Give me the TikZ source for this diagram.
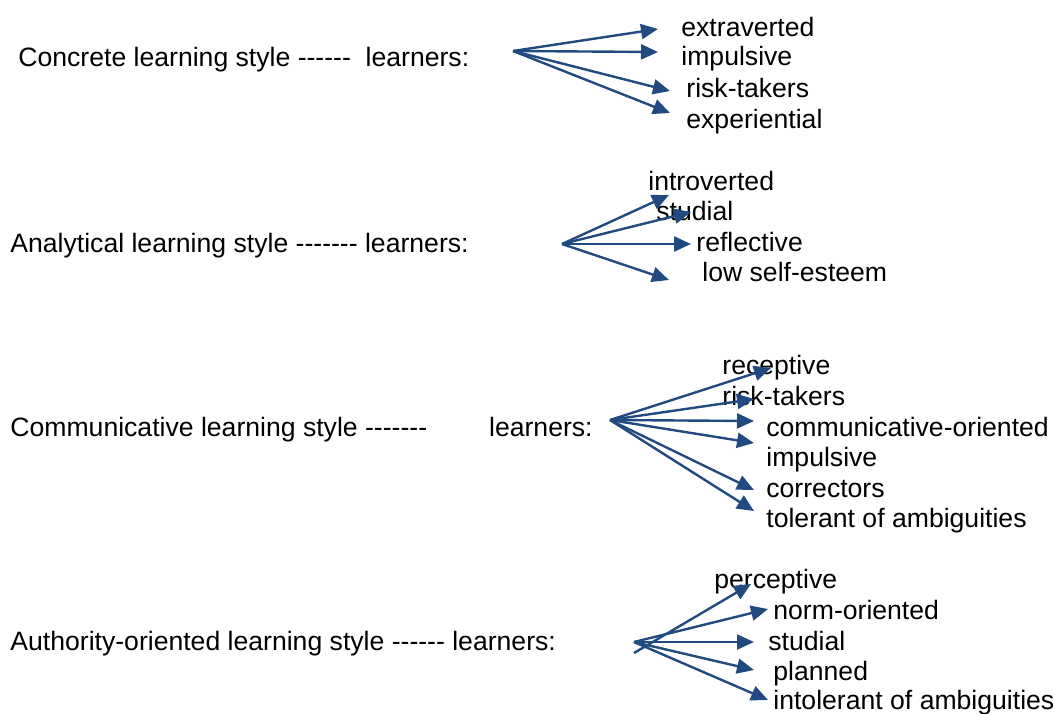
\documentclass[tikz,border=0pt]{standalone}
\usepackage{fontspec}
\setmainfont{Liberation Sans}
\usetikzlibrary{arrows.meta}
\definecolor{arrowblue}{RGB}{33,74,128}

\begin{document}
\begin{tikzpicture}[x=0.5pt, y=-0.5pt,
    every node/.style={anchor=base west, inner sep=0pt, yshift=-1pt, font=\fontsize{13.3}{15}\selectfont},
    arr/.style={draw=arrowblue, line width=1.2pt, -{Triangle[length=8.5pt,width=7.5pt]}}]
  \useasboundingbox (0,0) rectangle (1055,713);

  % concrete
  \node (conc) at (18,64) {Concrete learning style -{}-{}-{}-{}-{}-\ \ learners:};
  \coordinate (concS) at (513,49);
  \node (extra) at (681,34) {extraverted};
  \node (impul) at (681,63) {impulsive};
  \node (risk) at (686,95) {risk-takers};
  \node (exper) at (686,126) {experiential};
  \coordinate (extraT) at (658,27);
  \coordinate (impulT) at (658,50);
  \coordinate (riskT) at (670,89);
  \coordinate (experT) at (670,111);
  \draw[arr] (concS) -- (extraT);
  \draw[arr] (concS) -- (impulT);
  \draw[arr] (concS) -- (riskT);
  \draw[arr] (concS) -- (experT);

  % analytical
  \node (anal) at (10,250) {Analytical learning style -{}-{}-{}-{}-{}-{}- learners:};
  \coordinate (analS) at (562,242);
  \node (intro) at (648,188) {introverted};
  \node (stud) at (656,218) {studial};
  \node (refl) at (696,249) {reflective};
  \node (low) at (702,279) {low self-esteem};
  \coordinate (introT) at (669,193);
  \coordinate (studT) at (691,210);
  \coordinate (reflT) at (691,242);
  \coordinate (lowT) at (669,278);
  \draw[arr] (analS) -- (introT);
  \draw[arr] (analS) -- (studT);
  \draw[arr] (analS) -- (reflT);
  \draw[arr] (analS) -- (lowT);

  % communicative
  \node (comm) at (10,434) {Communicative learning style -{}-{}-{}-{}-{}-{}-\hspace{31pt}learners:};
  \coordinate (commS) at (610,418);
  \node (recep) at (722,372) {receptive};
  \node (risk2) at (722,403) {risk-takers};
  \node (cori) at (766,434) {communicative-oriented};
  \node (impul2) at (766,464) {impulsive};
  \node (corr) at (766,495) {correctors};
  \node (toler) at (766,525) {tolerant of ambiguities};
  \coordinate (recepT) at (771,366);
  \coordinate (risk2T) at (754,397);
  \coordinate (coriT) at (754,419);
  \coordinate (impul2T) at (754,441);
  \coordinate (corrT) at (754,488);
  \coordinate (tolerT) at (754,509);
  \draw[arr] (commS) -- (recepT);
  \draw[arr] (commS) -- (risk2T);
  \draw[arr] (commS) -- (coriT);
  \draw[arr] (commS) -- (impul2T);
  \draw[arr] (commS) -- (corrT);
  \draw[arr] (commS) -- (tolerT);

  % authority-oriented
  \node (auth) at (10,648) {Authority-oriented learning style -{}-{}-{}-{}-{}- learners:};
  \coordinate (authS) at (634,640);
  \coordinate (authL) at (634,651);
  \node (perc) at (714,586) {perceptive};
  \node (norm) at (773,617) {norm-oriented};
  \node (stud2) at (768,648) {studial};
  \node (plan) at (773,678) {planned};
  \node (intol) at (773,707) {intolerant of ambiguities};
  \coordinate (percT) at (751,582);
  \coordinate (normT) at (768,607);
  \coordinate (stud2T) at (754,640);
  \coordinate (planT) at (754,668);
  \coordinate (intolT) at (768,698);
  \draw[arr] (authL) -- (percT);
  \draw[arr] (authS) -- (normT);
  \draw[arr] (authS) -- (stud2T);
  \draw[arr] (authS) -- (planT);
  \draw[arr] (authS) -- (intolT);
\end{tikzpicture}
\end{document}
